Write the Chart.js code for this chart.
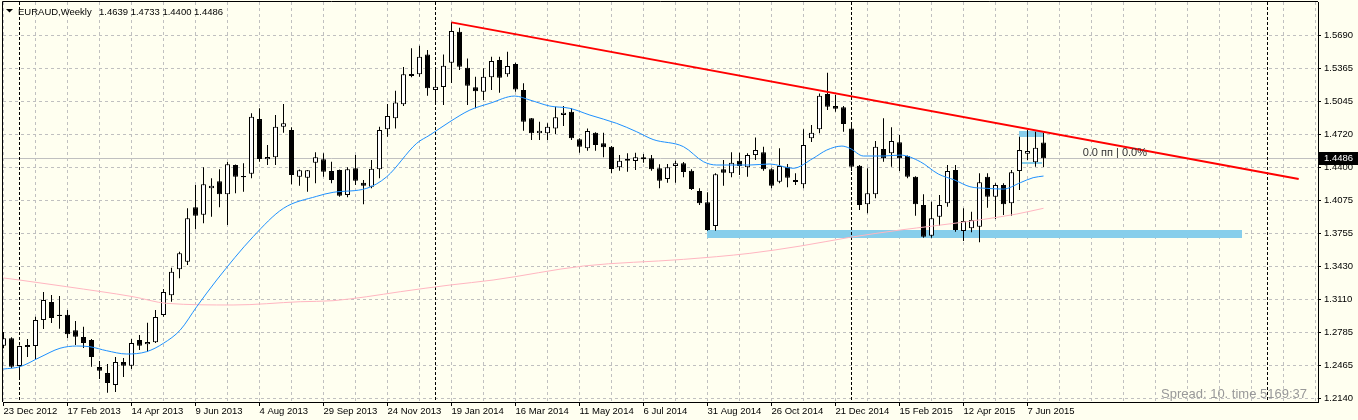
<!DOCTYPE html>
<html><head><meta charset="utf-8">
<script src="https://cdn.jsdelivr.net/npm/chart.js@4.4.1/dist/chart.umd.min.js"></script>
<style>html,body{margin:0;padding:0;background:#FFFFF0;overflow:hidden}canvas{display:block}</style>
</head><body>
<canvas id="c" width="1358" height="420"></canvas>
<script>
// ---------- data ----------
const symbolTitle = 'EURAUD,Weekly';
const ohlcTitle = '1.4639 1.4733 1.4400 1.4486';
const openVals = [1.2654,1.2726,1.2456,1.2641,1.2651,1.2905,1.3081,1.2957,1.2957,1.2805,1.2739,1.2710,1.2446,1.2387,1.2270,1.2495,1.2459,1.2710,1.2668,1.2687,
1.2954,1.3147,1.3401,1.3475,1.4006,1.3934,1.4192,1.4261,1.4134,1.4420,1.4312,1.4335,1.4869,1.4476,1.4495,1.4794,1.4762,1.4305,1.4296,1.4442,
1.4476,1.4361,1.4371,1.4127,1.4388,1.4247,1.4208,1.4378,1.4769,1.4876,1.5013,1.5309,1.5306,1.5501,1.5153,1.5182,1.5419,1.5722,1.5371,1.5179,
1.5136,1.5277,1.5446,1.5306,1.5407,1.5153,1.4876,1.4730,1.4730,1.4778,1.4908,1.4941,1.4671,1.4583,1.4735,1.4632,1.4599,1.4397,1.4478,1.4459,
1.4495,1.4485,1.4388,1.4283,1.4410,1.4436,1.4364,1.4166,1.4055,1.3824,1.4378,1.4339,1.4462,1.4397,1.4517,1.4544,1.4378,1.4257,1.4403,1.4273,
1.4231,1.4681,1.4769,1.5114,1.4996,1.4984,1.4778,1.4413,1.4036,1.4134,1.4576,1.4534,1.4642,1.4508,1.4305,1.4029,1.3729,1.3915,1.4046,1.4371,
1.3775,1.3801,1.3817,1.4305,1.4110,1.4224,1.4046,1.4361,1.4530,1.4446,1.4639];
const highVals = [1.2788,1.2736,1.2655,1.2720,1.2938,1.3179,1.3150,1.3140,1.3003,1.2896,1.2840,1.2720,1.2505,1.2475,1.2544,1.2534,1.2720,1.2759,1.2879,1.3003,
1.3208,1.3416,1.3573,1.3997,1.4224,1.4397,1.4290,1.4378,1.4452,1.4425,1.4436,1.4925,1.4974,1.4615,1.4908,1.5016,1.4788,1.4375,1.4372,1.4544,
1.4534,1.4452,1.4375,1.4397,1.4517,1.4273,1.4469,1.4794,1.5016,1.5146,1.5377,1.5560,1.5585,1.5543,1.5365,1.5501,1.5814,1.5761,1.5462,1.5283,
1.5365,1.5478,1.5478,1.5527,1.5419,1.5218,1.4880,1.4843,1.4827,1.4989,1.4996,1.4974,1.4681,1.4778,1.4740,1.4735,1.4605,1.4517,1.4534,1.4540,
1.4527,1.4517,1.4427,1.4430,1.4462,1.4449,1.4378,1.4192,1.4153,1.4339,1.4469,1.4544,1.4540,1.4534,1.4690,1.4599,1.4388,1.4583,1.4430,1.4339,
1.4769,1.4811,1.5120,1.5322,1.5104,1.4996,1.4811,1.4420,1.4388,1.4654,1.4876,1.4788,1.4713,1.4512,1.4310,1.4134,1.4061,1.4127,1.4420,1.4420,
1.3997,1.3964,1.4339,1.4339,1.4241,1.4241,1.4371,1.4696,1.4762,1.4745,1.4733];
const lowVals = [1.2629,1.2433,1.2339,1.2544,1.2514,1.2817,1.2876,1.2820,1.2729,1.2661,1.2632,1.2449,1.2329,1.2195,1.2202,1.2348,1.2427,1.2612,1.2596,1.2681,
1.2938,1.3084,1.3313,1.3443,1.3792,1.3850,1.3915,1.4006,1.3834,1.4143,1.4159,1.4290,1.4452,1.4420,1.4420,1.4735,1.4231,1.4218,1.4159,1.4241,
1.4305,1.4241,1.4110,1.4104,1.4224,1.4036,1.4192,1.4290,1.4696,1.4778,1.4996,1.5277,1.5283,1.5097,1.5032,1.5006,1.5221,1.5348,1.5006,1.4974,
1.5055,1.5153,1.5126,1.5283,1.5136,1.4755,1.4664,1.4664,1.4664,1.4723,1.4801,1.4664,1.4540,1.4560,1.4560,1.4495,1.4339,1.4364,1.4354,1.4371,
1.4442,1.4364,1.4192,1.4247,1.4247,1.4300,1.4176,1.4029,1.3778,1.3778,1.4218,1.4300,1.4322,1.4305,1.4469,1.4364,1.4192,1.4241,1.4202,1.4224,
1.4192,1.4645,1.4730,1.4957,1.4941,1.4745,1.4361,1.3980,1.3948,1.4094,1.4452,1.4403,1.4361,1.4290,1.3924,1.3709,1.3709,1.3827,1.4012,1.3768,
1.3677,1.3762,1.3664,1.4003,1.3892,1.3931,1.3924,1.4176,1.4469,1.4403,1.4400];
const closeVals = [1.2726,1.2449,1.2651,1.2661,1.2905,1.3101,1.2925,1.2944,1.2766,1.2742,1.2681,1.2544,1.2410,1.2290,1.2495,1.2459,1.2681,1.2654,1.2690,1.2935,
1.3179,1.3377,1.3557,1.3899,1.3924,1.4231,1.4218,1.4134,1.4427,1.4305,1.4300,1.4892,1.4478,1.4498,1.4794,1.4827,1.4322,1.4368,1.4368,1.4495,
1.4354,1.4273,1.4120,1.4378,1.4266,1.4218,1.4384,1.4762,1.4899,1.5032,1.5306,1.5289,1.5478,1.5169,1.5185,1.5390,1.5729,1.5380,1.5195,1.5140,
1.5283,1.5436,1.5273,1.5387,1.5159,1.4843,1.4730,1.4755,1.4794,1.4886,1.4931,1.4681,1.4599,1.4752,1.4615,1.4593,1.4381,1.4462,1.4462,1.4495,
1.4476,1.4378,1.4266,1.4397,1.4436,1.4351,1.4185,1.4046,1.3785,1.4329,1.4345,1.4442,1.4410,1.4517,1.4566,1.4378,1.4218,1.4410,1.4296,1.4254,
1.4615,1.4735,1.5097,1.4989,1.4970,1.4820,1.4403,1.4029,1.4143,1.4599,1.4485,1.4654,1.4485,1.4305,1.4036,1.3719,1.3899,1.4029,1.4361,1.3785,
1.3873,1.3882,1.4251,1.4110,1.4224,1.4036,1.4349,1.4566,1.4557,1.4589,1.4486];

const xTickLabels = ['23 Dec 2012','17 Feb 2013','14 Apr 2013','9 Jun 2013','4 Aug 2013','29 Sep 2013','24 Nov 2013','19 Jan 2014','16 Mar 2014','11 May 2014','6 Jul 2014','31 Aug 2014','26 Oct 2014','21 Dec 2014','15 Feb 2015','12 Apr 2015','7 Jun 2015'];
const yTickLabels = ['1.2140','1.2465','1.2785','1.3110','1.3430','1.3755','1.4075','1.4400','1.4720','1.5045','1.5365','1.5690'];

// moving averages (bar index, price)
const blueMaIdx = [0,2.06,4.56,7.06,9.15,10.8,12.9,15.4,17.9,20.0,22.1,24.15,26.65,31.2,35.0,39.15,41.2,45.4,47.9,51.65,53.3,55.8,58.3,60.8,63.9,65.8,68.3,70.8,73.3,76.65,79.15,81.2,85,87.5,89.15,93.3,95.8,98.7,101.2,102.9,104.8,105.8,107.5,110,112.1,114.6,116.85,118.9,120.8,122.9,125,127.1,128.7,130];
const blueMaVal = [1.2426,1.2449,1.2541,1.2629,1.2651,1.2644,1.2605,1.2573,1.2596,1.2678,1.2808,1.3035,1.3296,1.3719,1.3997,1.4114,1.4153,1.4192,1.4305,1.4632,1.4713,1.4843,1.4957,1.5023,1.5094,1.5055,1.4996,1.4974,1.4908,1.4827,1.4745,1.4669,1.4599,1.4452,1.4420,1.4420,1.4430,1.4388,1.4485,1.4566,1.4605,1.4583,1.4508,1.4508,1.4517,1.4452,1.4332,1.4273,1.4208,1.4192,1.4185,1.4247,1.4296,1.4312];
const pinkMaIdx = [0,2,7.9,16.2,20.4,28.7,37.1,41.2,45.4,49.6,55.8,61.2,72.5,85,93.3,99.6,105.8,112.1,116.2,122.5,126.65,130];
const pinkMaVal = [1.3316,1.3296,1.3231,1.3133,1.3068,1.3052,1.3084,1.3094,1.3133,1.3182,1.3247,1.3296,1.3433,1.3498,1.3557,1.3628,1.3713,1.3785,1.3824,1.3889,1.3941,1.3997];

// drawn objects
const trendIdx = [56, 161.9];
const trendVal = [1.5814, 1.4283];
const zoneIdx = [88, 154.9];
const zoneVal = [1.3785, 1.3710];
const boxIdx = [126.94, 130.06];
const boxVal = [1.4752, 1.4696];
const markIdx = [127.3, 129.8];
const markVal = 1.4444;
const yearStartIdx = [2, 54, 106, 158];
const lastPrice = 1.4486;
const infoText = '0.0 пп | 0.0%';
const infoIdx = 134.9, infoVal = 1.4542;
const spreadText = 'Spread: 10. time 5169:37';

// ---------- styles ----------
const BG = '#FFFFF0';
const FONT = "'Liberation Sans', Arial, sans-serif";
const GRID = '#C0C0C0';

const bodies = openVals.map((o, i) => ({x: i, y: [o, closeVals[i]]}));
const wicks = lowVals.map((l, i) => ({x: i, y: [l, highVals[i]]}));
const xy = (xs, ys) => xs.map((v, i) => ({x: v, y: ys[i]}));

const bgPlugin = {
  id: 'bg',
  beforeDraw(chart) {
    const c = chart.ctx; c.save(); c.fillStyle = BG; c.fillRect(0, 0, chart.width, chart.height); c.restore();
  }
};

const underlay = {
  id: 'underlay',
  beforeDatasetsDraw(chart) {
    const {ctx, chartArea: a, scales: {x, y}} = chart;
    ctx.save();
    ctx.beginPath(); ctx.rect(a.left, a.top, a.right - a.left, a.bottom - a.top); ctx.clip();
    // support zone
    ctx.fillStyle = '#87CEEB';
    let x1 = x.getPixelForValue(zoneIdx[0]), x2 = x.getPixelForValue(zoneIdx[1]);
    let y1 = y.getPixelForValue(zoneVal[0]), y2 = y.getPixelForValue(zoneVal[1]);
    ctx.fillRect(Math.round(x1), Math.round(y1), Math.round(x2 - x1), Math.round(y2 - y1));
    // small box near last bars
    x1 = x.getPixelForValue(boxIdx[0]); x2 = x.getPixelForValue(boxIdx[1]);
    y1 = y.getPixelForValue(boxVal[0]); y2 = y.getPixelForValue(boxVal[1]);
    ctx.fillRect(Math.round(x1), Math.round(y1), Math.round(x2 - x1), Math.round(y2 - y1));
    x1 = x.getPixelForValue(markIdx[0]); x2 = x.getPixelForValue(markIdx[1]);
    y1 = y.getPixelForValue(markVal);
    ctx.fillRect(Math.round(x1), Math.round(y1) - 1, Math.round(x2 - x1), 2);
    // current price line
    const py = Math.floor(y.getPixelForValue(lastPrice)) + 0.5;
    ctx.strokeStyle = GRID; ctx.lineWidth = 1;
    ctx.beginPath(); ctx.moveTo(a.left, py); ctx.lineTo(a.right, py); ctx.stroke();
    // year separators
    ctx.strokeStyle = '#000'; ctx.setLineDash([3, 2]);
    yearStartIdx.forEach(i => {
      const px = Math.floor(x.getPixelForValue(i)) + 0.5;
      ctx.beginPath(); ctx.moveTo(px, a.top); ctx.lineTo(px, a.bottom); ctx.stroke();
    });
    ctx.restore();
  }
};

const overlay = {
  id: 'overlay',
  afterDraw(chart) {
    const {ctx, chartArea: a, scales: {x, y}} = chart;
    ctx.save();
    // left & top frame
    ctx.strokeStyle = '#000'; ctx.lineWidth = 1;
    ctx.beginPath();
    ctx.moveTo(a.left - 0.5, a.bottom); ctx.lineTo(a.left - 0.5, a.top - 0.5); ctx.lineTo(a.right, a.top - 0.5);
    ctx.stroke();
    // title
    ctx.fillStyle = '#000';
    ctx.beginPath(); ctx.moveTo(6, 9); ctx.lineTo(13, 9); ctx.lineTo(9.5, 12.5); ctx.closePath(); ctx.fill();
    ctx.font = '9.5px ' + FONT; ctx.textBaseline = 'alphabetic'; ctx.textAlign = 'left';
    ctx.fillText(symbolTitle, 18, 14.5);
    ctx.fillText(ohlcTitle, 99, 14.5);
    // info text
    ctx.fillStyle = '#333';
    ctx.font = '11px ' + FONT; ctx.textBaseline = 'middle';
    ctx.fillText(infoText, x.getPixelForValue(infoIdx), y.getPixelForValue(infoVal));
    // spread text
    ctx.fillStyle = '#999';
    ctx.font = '13px ' + FONT; ctx.textAlign = 'right'; ctx.textBaseline = 'alphabetic';
    ctx.fillText(spreadText, a.right - 11, a.bottom - 4);
    // current price box
    const py = y.getPixelForValue(lastPrice);
    ctx.fillStyle = '#000';
    ctx.fillRect(a.right + 1, Math.round(py) - 6, chart.width - a.right - 1, 13);
    ctx.fillStyle = '#fff'; ctx.textAlign = 'left'; ctx.textBaseline = 'middle';
    ctx.font = '9.5px ' + FONT;
    ctx.fillText(lastPrice.toFixed(4), a.right + 6, Math.round(py) + 0.5);
    ctx.restore();
  }
};

new Chart(document.getElementById('c'), {
  type: 'bar',
  data: {
    datasets: [
      {type: 'line', data: xy(trendIdx, trendVal), borderColor: '#FF0000', borderWidth: 2, pointRadius: 0, order: 0},
      {type: 'line', data: xy(blueMaIdx, blueMaVal), borderColor: '#1E90FF', borderWidth: 1, pointRadius: 0, cubicInterpolationMode: 'monotone', order: 1},
      {type: 'line', data: xy(pinkMaIdx, pinkMaVal), borderColor: '#FFB6C1', borderWidth: 1, pointRadius: 0, cubicInterpolationMode: 'monotone', order: 2},
      {type: 'bar', data: bodies, grouped: false, barThickness: 5, borderWidth: 1, borderColor: '#000', borderSkipped: false, inflateAmount: 0,
        backgroundColor: c => (closeVals[c.dataIndex] >= openVals[c.dataIndex] ? '#FFFFFF' : '#000000'), order: 3},
      {type: 'bar', data: wicks, grouped: false, barThickness: 1, borderWidth: 0, inflateAmount: 0, backgroundColor: '#000', order: 4}
    ]
  },
  options: {
    responsive: false,
    devicePixelRatio: 1,
    animation: false,
    events: [],
    layout: {padding: {left: 3, top: 2, right: 0, bottom: 0}},
    plugins: {legend: {display: false}, tooltip: {enabled: false}, title: {display: false}},
    scales: {
      x: {
        type: 'linear', min: -0.0625, max: 164.3125, offset: false,
        grid: {display: true, offset: false, color: GRID, lineWidth: 1, drawTicks: true, tickLength: 4,
          tickColor: c => (c.tick && c.tick.value % 8 === 0 && c.tick.value / 8 < xTickLabels.length) ? '#000' : 'rgba(0,0,0,0)'},
        border: {display: true, color: '#000', width: 1, dash: [3, 3]},
        afterBuildTicks: s => { const t = []; for (let v = 0; v <= 164; v += 4) t.push({value: v}); s.ticks = t; },
        afterFit: s => { s.height = 18; s.paddingLeft = 0; s.paddingRight = 0; },
        ticks: {
          autoSkip: false, maxRotation: 0, minRotation: 0, align: 'start', padding: 0,
          color: '#000', font: {family: FONT, size: 9.5},
          callback: v => (v % 8 === 0 && v / 8 < xTickLabels.length) ? xTickLabels[v / 8] : ''
        }
      },
      y: {
        type: 'linear', position: 'right', min: 1.2104, max: 1.6013, beginAtZero: false,
        grid: {color: GRID, lineWidth: 1, drawTicks: true, tickLength: 3, tickColor: '#000'},
        border: {display: true, color: '#000', width: 1, dash: [3, 3]},
        afterBuildTicks: s => { s.ticks = yTickLabels.map(l => ({value: parseFloat(l)})); },
        afterFit: s => { s.width = 40; s.paddingTop = 0; s.paddingBottom = 0; },
        ticks: {
          padding: 3, color: '#000', font: {family: FONT, size: 9.5},
          callback: (v, i) => yTickLabels[i]
        }
      }
    }
  },
  plugins: [bgPlugin, underlay, overlay]
});
</script>
</body></html>
